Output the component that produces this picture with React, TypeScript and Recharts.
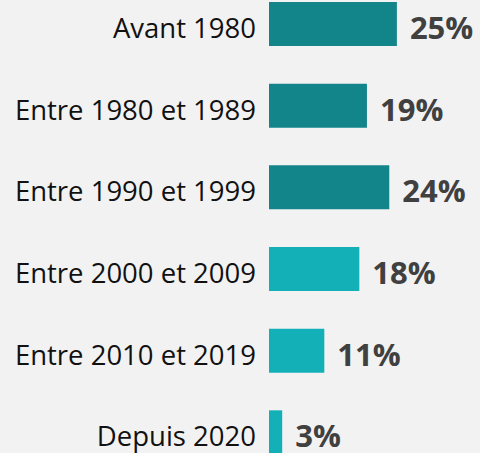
import { BarChart, Bar, XAxis, YAxis, Cell, LabelList } from 'recharts';

const periods = [
  'Avant 1980',
  'Entre 1980 et 1989',
  'Entre 1990 et 1999',
  'Entre 2000 et 2009',
  'Entre 2010 et 2019',
  'Depuis 2020',
];
const shares = [25.2, 19.3, 23.7, 17.8, 10.9, 2.6];
const shareLabels = ['25%', '19%', '24%', '18%', '11%', '3%'];
const barColors = ['#12858a', '#12858a', '#12858a', '#14b0b8', '#14b0b8', '#14b0b8'];

const data = periods.map((name, i) => ({ name, value: shares[i], label: shareLabels[i] }));

const FONT = '"Open Sans", "Noto Sans", sans-serif';

// ticks are drawn by hand so they can sit a bit below the bar centre like the original
const PeriodTick = ({ x, y, payload }: any) => (
  <text x={x} y={y} dy={14} textAnchor="end" fill="#111111" fontSize={27.5} fontFamily={FONT}>
    {payload.value}
  </text>
);

export default function App() {
  return (
    <div
      style={{
        position: 'fixed',
        top: 0,
        left: 0,
        width: 480,
        height: 453,
        overflow: 'hidden',
        background: '#f2f2f2',
        fontFamily: FONT,
      }}
    >
      <div style={{ position: 'absolute', top: -17, left: 0 }}>
        <BarChart
          width={480}
          height={490}
          data={data}
          layout="vertical"
          margin={{ top: 0, right: 8, bottom: 0, left: 0 }}
        >
          <XAxis type="number" domain={[0, 40]} hide />
          <YAxis
            type="category"
            dataKey="name"
            width={269}
            axisLine={false}
            tickLine={false}
            tickSize={0}
            tickMargin={13}
            tick={<PeriodTick />}
          />
          <Bar dataKey="value" barSize={44} isAnimationActive={false}>
            {data.map((d, i) => (
              <Cell key={d.name} fill={barColors[i]} />
            ))}
            <LabelList
              dataKey="label"
              position="right"
              offset={13}
              dy={4}
              style={{ fill: '#404040', fontSize: 31, fontWeight: 700, fontFamily: FONT }}
            />
          </Bar>
        </BarChart>
      </div>
    </div>
  );
}
